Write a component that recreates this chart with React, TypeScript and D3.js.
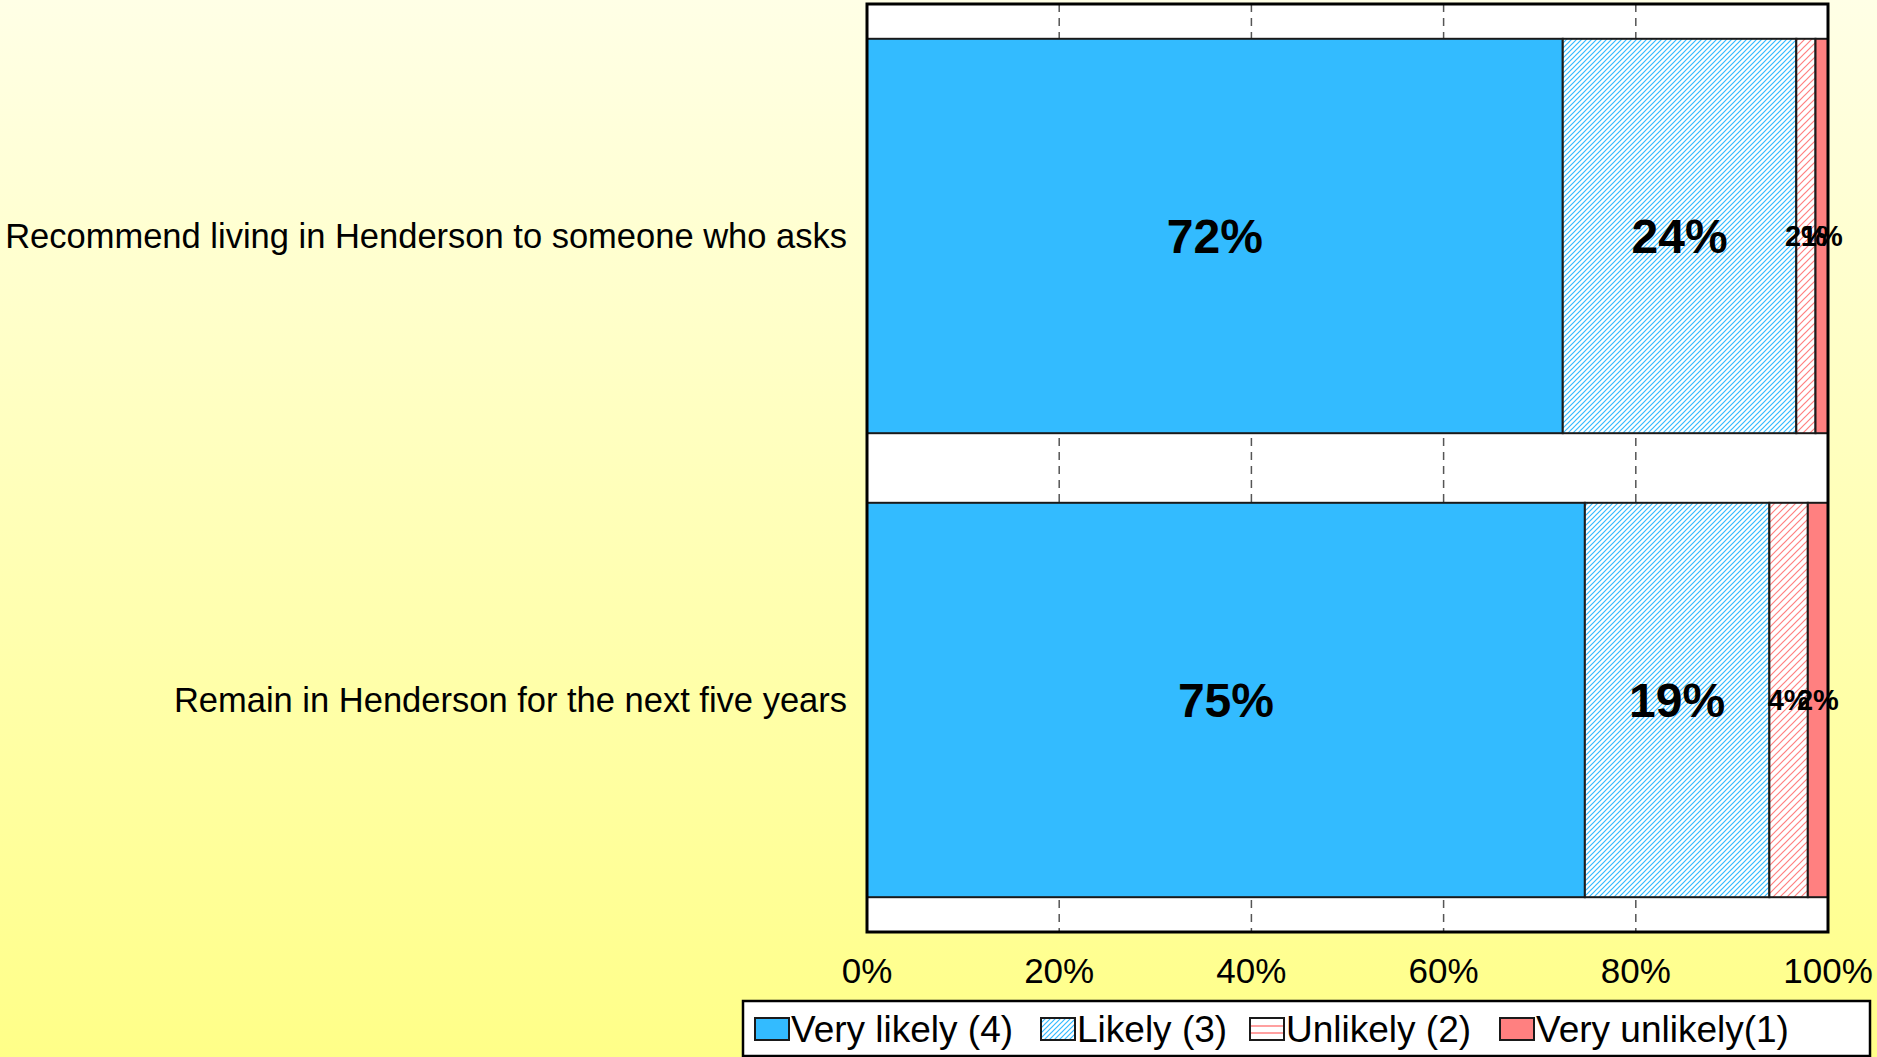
import { scaleBand, scaleLinear, stack } from 'd3';

// categories and values (percent)
const categories = [
  'Recommend living in Henderson to someone who asks',
  'Remain in Henderson for the next five years',
];
const seriesNames = ['Very likely (4)', 'Likely (3)', 'Unlikely (2)', 'Very unlikely(1)'];
const veryLikely = [72.4, 74.7];
const likely = [24.3, 19.2];
const unlikely = [2.0, 4.0];
const veryUnlikely = [1.3, 2.1];
const tickValues = [0, 20, 40, 60, 80, 100];

const W = 1877;
const H = 1057;
const margin = { top: 4, right: 49, bottom: 125, left: 867 };
const font = '"Liberation Sans", Arial, sans-serif';

const fills = ['#33BBFF', 'url(#hatchBlue)', 'url(#hatchPink)', '#FF8080'];

const App = () => {
  const innerW = W - margin.left - margin.right;
  const innerH = H - margin.top - margin.bottom;

  const rows = categories.map((c, i) => ({
    cat: c,
    s0: veryLikely[i],
    s1: likely[i],
    s2: unlikely[i],
    s3: veryUnlikely[i],
  }));
  const keys = ['s0', 's1', 's2', 's3'];
  const stacked = stack<any>().keys(keys)(rows);

  const x = scaleLinear().domain([0, 100]).range([0, innerW]);
  const y = scaleBand()
    .domain(categories)
    .range([0, innerH])
    .paddingInner(0.15)
    .paddingOuter(0.075);

  // legend layout
  const legendX = [755, 1041, 1250, 1500];

  return (
    <div style={{ position: 'absolute', left: 0, top: 0 }}>
      <svg width={W} height={H} style={{ display: 'block' }}>
        <defs>
          <linearGradient id="bg" x1="0" y1="0" x2="0" y2="1">
            <stop offset="0" stopColor="#FFFFE6" />
            <stop offset="1" stopColor="#FFFF88" />
          </linearGradient>
          <pattern id="hatchBlue" width="5" height="5" patternUnits="userSpaceOnUse">
            <rect width="5" height="5" fill="#fff" />
            <path d="M-1,1 l2,-2 M0,5 l5,-5 M4,6 l2,-2" stroke="#33BBFF" strokeWidth="1.2" />
          </pattern>
          <pattern id="hatchPink" width="7" height="7" patternUnits="userSpaceOnUse">
            <rect width="7" height="7" fill="#fff" />
            <path d="M-1,1 l2,-2 M0,7 l7,-7 M6,8 l2,-2" stroke="#FF8080" strokeWidth="1.2" />
          </pattern>
        </defs>
        <rect width={W} height={H} fill="url(#bg)" />

        <g transform={`translate(${margin.left},${margin.top})`}>
          <rect width={innerW} height={innerH} fill="#fff" />
          {tickValues.slice(1, -1).map((t) => (
            <line
              key={t}
              x1={x(t)}
              x2={x(t)}
              y1={0}
              y2={innerH}
              stroke="#555"
              strokeWidth={1.5}
              strokeDasharray="8,6"
            />
          ))}

          {stacked.map((layer, li) =>
            layer.map((d) => (
              <rect
                key={`${li}-${d.data.cat}`}
                x={x(d[0])}
                y={y(d.data.cat)}
                width={x(d[1]) - x(d[0])}
                height={y.bandwidth()}
                fill={fills[li]}
                stroke="#1a1a1a"
                strokeWidth={2}
              />
            ))
          )}

          {stacked.map((layer, li) =>
            layer.map((d) => {
              const v = d[1] - d[0];
              const small = v < 5;
              return (
                <text
                  key={`l${li}-${d.data.cat}`}
                  x={(x(d[0]) + x(d[1])) / 2}
                  y={(y(d.data.cat) as number) + y.bandwidth() / 2}
                  textAnchor="middle"
                  dominantBaseline="central"
                  fontFamily={font}
                  fontWeight="bold"
                  fontSize={small ? 29 : 48}
                >
                  {Math.round(v)}%
                </text>
              );
            })
          )}

          <rect width={innerW} height={innerH} fill="none" stroke="#000" strokeWidth={3} />

          {categories.map((c) => (
            <text
              key={c}
              x={-20}
              y={(y(c) as number) + y.bandwidth() / 2}
              textAnchor="end"
              dominantBaseline="central"
              fontFamily={font}
              fontSize={34.5}
            >
              {c}
            </text>
          ))}

          {tickValues.map((t) => (
            <text
              key={t}
              x={x(t)}
              y={innerH + 51}
              textAnchor="middle"
              fontFamily={font}
              fontSize={35}
            >
              {t}%
            </text>
          ))}
        </g>

        <g>
          <rect x={743} y={1001} width={1127} height={55} fill="#fff" stroke="#000" strokeWidth={2.5} />
          {seriesNames.map((s, i) => (
            <g key={s} transform={`translate(${legendX[i]},1018)`}>
              <rect
                width={34}
                height={22}
                fill={i === 1 ? 'url(#hatchBlue)' : i === 2 ? '#fff' : fills[i]}
                stroke="#1a1a1a"
                strokeWidth={2}
              />
              {i === 2 && (
                <g stroke="#FF8080" strokeWidth={1.5}>
                  <line x1={1} x2={33} y1={8} y2={8} />
                  <line x1={1} x2={33} y1={15} y2={15} />
                </g>
              )}
              <text x={36} y={24} fontFamily={font} fontSize={37}>
                {s}
              </text>
            </g>
          ))}
        </g>
      </svg>
    </div>
  );
};

export default App;
